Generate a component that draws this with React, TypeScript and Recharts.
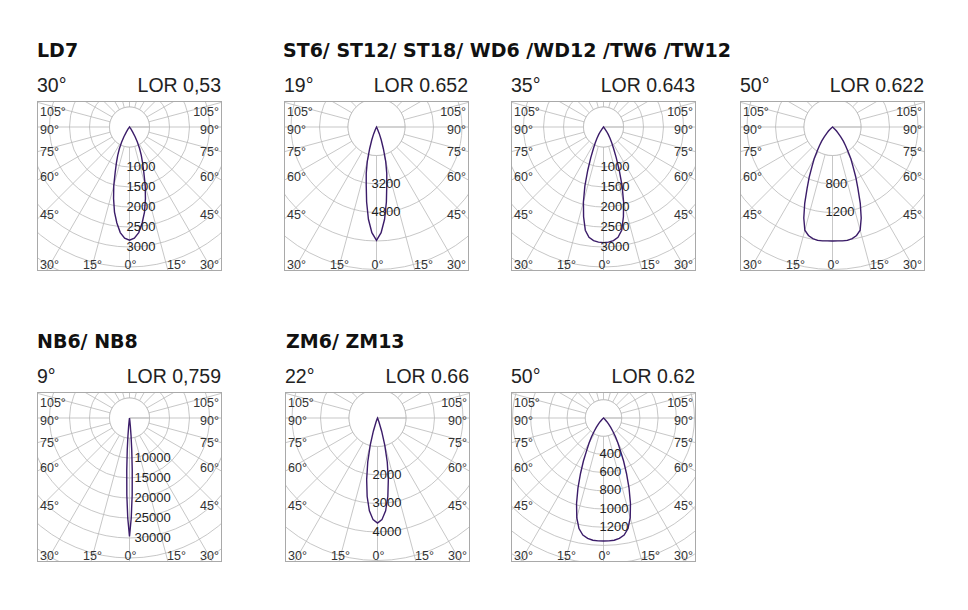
import React from "react";
import {
	Pie,
	Radar,
	RadarChart,
	PolarGrid,
	PolarAngleAxis,
	PolarRadiusAxis,
} from "recharts";

// half profiles: angle from nadir (deg) -> intensity (cd), mirrored when drawn
const angles25 = [
	0, 2.5, 5, 7.5, 10, 12.5, 15, 17.5, 20, 22.5, 25, 27.5, 30, 32.5, 35, 37.5,
	40, 42.5, 45, 47.5, 50, 52.5, 55,
];
const angles1 = [0, 1, 2, 3, 4, 5, 6, 7, 8];

const ld7Cd = [2830, 2780, 2650, 2420, 2160, 1840, 1520, 1190, 960, 770, 600, 430, 280, 150, 60, 10, 0];
const st19Cd = [6360, 5940, 5200, 4250, 3320, 2660, 2000, 1280, 780, 420, 150, 30, 0];
const st35Cd = [2890, 2880, 2850, 2780, 2620, 2300, 1940, 1550, 1150, 830, 600, 450, 330, 220, 130, 50, 0];
const st50Cd = [1600, 1600, 1605, 1605, 1590, 1560, 1500, 1340, 1140, 930, 770, 620, 515, 400, 320, 250, 180, 120, 80, 45, 20, 5, 0];
const nb9Cd = [29600, 25000, 19200, 13100, 8100, 4500, 2000, 700, 0];
const zm22Cd = [3690, 3570, 3270, 2780, 2190, 1580, 985, 485, 150, 30, 0];
const zm50Cd = [1352, 1352, 1348, 1335, 1307, 1245, 1134, 985, 821, 660, 522, 398, 317, 245, 178, 130, 85, 55, 30, 12, 0];

const ld7Labels = [1000, 1500, 2000, 2500, 3000];
const st19Labels = [3200, 4800];
const st35Labels = [1000, 1500, 2000, 2500, 3000];
const st50Labels = [800, 1200];
const nb9Labels = [10000, 15000, 20000, 25000, 30000];
const zm22Labels = [2000, 3000, 4000];
const zm50Labels = [400, 600, 800, 1000, 1200];

const gridAngles = [0, 15, 30, 45, 60, 75, 90, 105, 120, 135, 150, 165, 180, 195, 210, 225, 240, 255, 270, 285, 300, 315, 330, 345];
const holeData = [{ v: 1 }];

const titles = [
	{ text: "LD7", x: 37, y: 40 },
	{ text: "ST6/ ST12/ ST18/ WD6 /WD12 /TW6 /TW12", x: 283, y: 40 },
	{ text: "NB6/ NB8", x: 37, y: 331 },
	{ text: "ZM6/ ZM13", x: 286, y: 331 },
];

const panels = [
	{ beam: "30°", lor: "LOR 0,53", angles: angles25, cd: ld7Cd, labels: ld7Labels, step: 500, ringPx: 20, x: 37, y: 101, dx: -3 },
	{ beam: "19°", lor: "LOR 0.652", angles: angles25, cd: st19Cd, labels: st19Labels, step: 1600, ringPx: 28.5, x: 284, y: 101, dx: -5 },
	{ beam: "35°", lor: "LOR 0.643", angles: angles25, cd: st35Cd, labels: st35Labels, step: 500, ringPx: 20, x: 511, y: 101, dx: -3 },
	{ beam: "50°", lor: "LOR 0.622", angles: angles25, cd: st50Cd, labels: st50Labels, step: 400, ringPx: 28.5, x: 740, y: 101, dx: -7 },
	{ beam: "9°", lor: "LOR 0,759", angles: angles1, cd: nb9Cd, labels: nb9Labels, step: 5000, ringPx: 20, x: 37, y: 392, dx: 5 },
	{ beam: "22°", lor: "LOR 0.66", angles: angles25, cd: zm22Cd, labels: zm22Labels, step: 1000, ringPx: 28.5, x: 285, y: 392, dx: -5 },
	{ beam: "50°", lor: "LOR 0.62", angles: angles25, cd: zm50Cd, labels: zm50Labels, step: 200, ringPx: 18.2, x: 511, y: 392, dx: -4 },
];

const sideLabels = [
	{ t: "105°", y: 10 },
	{ t: "90°", y: 28 },
	{ t: "75°", y: 50 },
	{ t: "60°", y: 75 },
	{ t: "45°", y: 113 },
];

const W = 183;
const H = 168;
const CX = W / 2;
const CY = 25;
const GRID = "#b9b9b9";
const CURVE = "#3b1c69";
const SANS = "'Liberation Sans', Arial, sans-serif";

function mirror(angles: number[], cd: number[]) {
	const rows: { angle: number; cd: number }[] = [];
	for (let i = cd.length - 1; i > 0; i--) rows.push({ angle: -angles[i], cd: cd[i] });
	for (let i = 0; i < cd.length; i++) rows.push({ angle: angles[i], cd: cd[i] });
	return rows;
}

function Diagram({ p }: { p: (typeof panels)[number] }) {
	const rows = mirror(p.angles, p.cd);
	const n = Math.ceil(178 / p.ringPx);
	const ticks = Array.from({ length: n }, (_, i) => (i + 1) * p.step);
	const outer = n * p.ringPx;
	const lbl: React.CSSProperties = {
		position: "absolute",
		fontSize: 12.5,
		color: "#333",
		lineHeight: "12px",
		transform: "translateY(-50%)",
		whiteSpace: "nowrap",
	};

	const radiusTick = (props: any) => {
		const { x, y, payload } = props;
		if (!p.labels.includes(payload.value)) return <g />;
		return (
			<text
				x={x + p.dx}
				y={y - 1}
				dominantBaseline="central"
				textAnchor="start"
				fontSize={13}
				fontFamily={SANS}
				fill="#222"
			>
				{payload.value}
			</text>
		);
	};

	return (
		<>
			<div style={{ position: "absolute", left: p.x, top: p.y - 26, width: W + 1, fontSize: 19.5, color: "#222", lineHeight: "20px" }}>
				<span>{p.beam}</span>
				<span style={{ position: "absolute", right: 0 }}>{p.lor}</span>
			</div>
			<div
				style={{
					position: "absolute",
					left: p.x,
					top: p.y,
					width: W,
					height: H,
					border: "1px solid #a9a9a9",
					overflow: "hidden",
				}}
			>
				<RadarChart
					width={W}
					height={H}
					data={rows}
					cx={CX}
					cy={CY}
					innerRadius={0}
					outerRadius={outer}
					startAngle={-270}
					endAngle={90}
					margin={{ top: 0, right: 0, bottom: 0, left: 0 }}
				>
					<PolarGrid
						gridType="circle"
						stroke={GRID}
						strokeWidth={0.8}
						polarAngles={gridAngles.map((a) => a - 90)}
					/>
					<PolarAngleAxis
						dataKey="angle"
						type="number"
						domain={[-180, 180]}
						tick={false}
						axisLine={false}
					/>
					<Pie
						data={holeData}
						dataKey="v"
						cx={CX}
						cy={CY}
						innerRadius={0}
						outerRadius={p.ringPx}
						startAngle={0}
						endAngle={360}
						fill="#fff"
						stroke={GRID}
						strokeWidth={0.8}
						isAnimationActive={false}
					/>
					<PolarRadiusAxis
						angle={-90}
						type="number"
						scale="linear"
						domain={[0, n * p.step]}
						ticks={ticks}
						allowDataOverflow
						axisLine={false}
						tickLine={false}
						tick={radiusTick}
					/>
					<Radar
						dataKey="cd"
						stroke={CURVE}
						strokeWidth={1.4}
						fill="none"
						fillOpacity={0}
						dot={false}
						isAnimationActive={false}
					/>
				</RadarChart>
				{sideLabels.map((s) => (
					<React.Fragment key={s.t}>
						<span style={{ ...lbl, left: 2, top: s.y }}>{s.t}</span>
						<span style={{ ...lbl, right: 2, top: s.y }}>{s.t}</span>
					</React.Fragment>
				))}
				<span style={{ ...lbl, left: 2, top: 163 }}>30°</span>
				<span style={{ ...lbl, left: 45, top: 163 }}>15°</span>
				<span style={{ ...lbl, left: CX - 5, top: 163 }}>0°</span>
				<span style={{ ...lbl, left: 129, top: 163 }}>15°</span>
				<span style={{ ...lbl, right: 2, top: 163 }}>30°</span>
			</div>
		</>
	);
}

export default function App() {
	return (
		<div
			style={{
				position: "absolute",
				left: 0,
				top: 0,
				width: 968,
				height: 610,
				background: "#fff",
				fontFamily: SANS,
			}}
		>
			{titles.map((t) => (
				<div
					key={t.text}
					style={{
						position: "absolute",
						left: t.x,
						top: t.y,
						fontFamily: "'DejaVu Sans', sans-serif",
						fontWeight: "bold",
						fontSize: 19,
						lineHeight: "20px",
						color: "#111",
						whiteSpace: "nowrap",
					}}
				>
					{t.text}
				</div>
			))}
			{panels.map((p, i) => (
				<Diagram key={i} p={p} />
			))}
		</div>
	);
}
